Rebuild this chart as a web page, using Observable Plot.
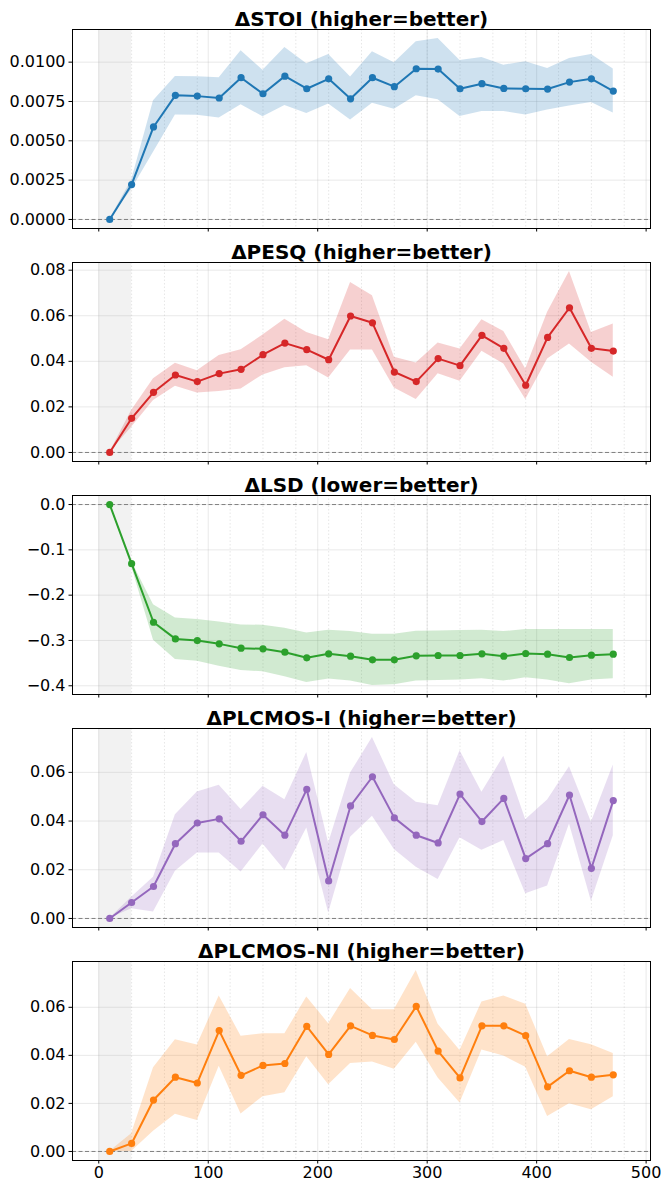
<!DOCTYPE html>
<html>
<head>
<meta charset="utf-8">
<script src="https://cdn.jsdelivr.net/npm/d3@7"></script>
<script src="https://cdn.jsdelivr.net/npm/@observablehq/plot@0.6"></script>
<style>
  html, body { margin: 0; padding: 0; background: #fff; }
  svg { display: block; }
</style>
</head>
<body>
<div id="chart"></div>
<script>
const xs = [10,30,50,70,90,110,130,150,170,190,210,230,250,270,290,310,330,350,370,390,410,430,450,470];
const xTicks = [0,100,200,300,400,500];
const xMinor = [30,60,90,120,150,180,210,240,270,300,330,360,390,420,450,480];
const warmup = [0, 30];

const titles = ["ΔSTOI (higher=better)", "ΔPESQ (higher=better)", "ΔLSD (lower=better)", "ΔPLCMOS-I (higher=better)", "ΔPLCMOS-NI (higher=better)"];
const colors = ["#1f77b4", "#d62728", "#2ca02c", "#9467bd", "#ff7f0e"];

const stoiMean = [0,0.00222,0.00588,0.00789,0.00784,0.00772,0.00901,0.00799,0.00911,0.00831,0.00894,0.00767,0.00901,0.00844,0.00958,0.00956,0.00831,0.00863,0.00833,0.00831,0.00829,0.00873,0.00894,0.00816];
const stoiLo = [0,0.0019,0.00427,0.00664,0.00662,0.00645,0.00729,0.00653,0.00725,0.00674,0.00734,0.00632,0.00738,0.00700,0.00786,0.00761,0.00655,0.00687,0.00687,0.00664,0.00696,0.00721,0.00744,0.00677];
const stoiHi = [0,0.0025,0.00755,0.00909,0.00907,0.00901,0.01072,0.00949,0.01093,0.00989,0.01049,0.00905,0.01066,0.00996,0.01129,0.0115,0.01011,0.0103,0.00981,0.01002,0.0096,0.01023,0.01049,0.00956];

const pesqMean = [0,0.0150,0.0264,0.0340,0.0311,0.0346,0.0365,0.0429,0.0480,0.0451,0.0407,0.0599,0.0569,0.0353,0.0311,0.0412,0.0381,0.0514,0.0457,0.0295,0.0505,0.0635,0.0457,0.0445];
const pesqLo = [0,0.0111,0.0228,0.0291,0.0261,0.0267,0.0279,0.0340,0.0372,0.0380,0.0327,0.0450,0.0450,0.0283,0.0232,0.0345,0.0312,0.0444,0.0388,0.0232,0.0410,0.0476,0.0396,0.0330];
const pesqHi = [0,0.0184,0.0323,0.0391,0.0359,0.0425,0.0451,0.0515,0.0585,0.0527,0.0495,0.0746,0.0688,0.0418,0.0393,0.0480,0.0454,0.0582,0.0531,0.0366,0.0615,0.0794,0.0527,0.0564];

const lsdMean = [0,-0.1306,-0.2598,-0.2965,-0.3002,-0.3075,-0.3171,-0.3185,-0.3259,-0.3383,-0.3295,-0.3347,-0.3428,-0.3428,-0.3339,-0.3332,-0.3332,-0.3295,-0.3347,-0.3288,-0.3303,-0.3376,-0.3325,-0.3303];
const lsdLo = [0,-0.137,-0.2994,-0.342,-0.3457,-0.3567,-0.3662,-0.3692,-0.3802,-0.3927,-0.3853,-0.3897,-0.3993,-0.3978,-0.3897,-0.3883,-0.3875,-0.3846,-0.3897,-0.3824,-0.3875,-0.3956,-0.3875,-0.3846];
const lsdHi = [0,-0.125,-0.2209,-0.2503,-0.254,-0.2591,-0.2657,-0.2664,-0.273,-0.2833,-0.2774,-0.2804,-0.2862,-0.2862,-0.2796,-0.2789,-0.2782,-0.2774,-0.2804,-0.276,-0.276,-0.276,-0.276,-0.276];

const plcIMean = [0,0.00656,0.01312,0.0307,0.0392,0.0409,0.0317,0.0426,0.0342,0.0530,0.0154,0.0462,0.0582,0.0413,0.0342,0.0310,0.0511,0.0398,0.0493,0.0246,0.0307,0.0507,0.0206,0.0484];
const plcILo = [0,0.0040,0.0026,0.0194,0.0269,0.0269,0.0191,0.0306,0.0197,0.0372,0.0022,0.0333,0.0420,0.0283,0.0210,0.0160,0.0331,0.0280,0.0320,0.0101,0.0133,0.0388,0.0071,0.0340];
const plcIHi = [0,0.0087,0.0169,0.0426,0.0519,0.0547,0.0447,0.0543,0.0488,0.0682,0.0309,0.0597,0.0743,0.0549,0.0477,0.0463,0.0689,0.0518,0.0666,0.0405,0.0487,0.0623,0.0395,0.0630];

const plcNIMean = [0,0.00334,0.0214,0.0309,0.0285,0.0503,0.0317,0.0358,0.0366,0.0521,0.0404,0.0523,0.0483,0.0466,0.0604,0.0418,0.0306,0.0523,0.0523,0.0482,0.0269,0.0336,0.0309,0.0319];
const plcNILo = [0,0.0,0.0084,0.0155,0.0129,0.0355,0.0156,0.0228,0.0244,0.0394,0.0278,0.0366,0.0372,0.0342,0.0455,0.0306,0.0202,0.0422,0.0397,0.0351,0.0146,0.0199,0.0174,0.0228];
const plcNIHi = [0,0.0074,0.0348,0.0465,0.0443,0.0647,0.0480,0.0490,0.0490,0.0643,0.0532,0.0678,0.0590,0.0590,0.0753,0.0529,0.0420,0.0622,0.0647,0.0613,0.0394,0.0466,0.0444,0.0408];

const yTicksList = [
  [0, 0.0025, 0.005, 0.0075, 0.01],
  [0, 0.02, 0.04, 0.06, 0.08],
  [0, -0.1, -0.2, -0.3, -0.4],
  [0, 0.02, 0.04, 0.06],
  [0, 0.02, 0.04, 0.06]
];
const yFormats = [".4f", ".2f", ".1f", ".2f", ".2f"];

const series = [
  [stoiMean, stoiLo, stoiHi],
  [pesqMean, pesqLo, pesqHi],
  [lsdMean, lsdLo, lsdHi],
  [plcIMean, plcILo, plcIHi],
  [plcNIMean, plcNILo, plcNIHi]
];

const W = 663;
const container = document.getElementById("chart");

series.forEach(([mean, lo, hi], i) => {
  const rows = xs.map((x, k) => ({x, mean: mean[k], lo: lo[k], hi: hi[k]}));
  const minV = Math.min(0, d3.min(lo), d3.min(mean));
  const maxV = Math.max(0, d3.max(hi), d3.max(mean));
  const pad = (maxV - minV) * 0.05;
  const last = i === series.length - 1;
  const c = colors[i];
  const fmt = d3.format(yFormats[i]);
  const plot = Plot.plot({
    width: W,
    height: last ? 250 : 233,
    marginTop: 29,
    marginBottom: last ? 22 : 5,
    marginLeft: 72,
    marginRight: 13,
    style: {fontFamily: "'DejaVu Sans', sans-serif", fontSize: "16px", color: "#000", background: "#fff"},
    x: {domain: [-24, 504]},
    y: {domain: [minV - pad, maxV + pad]},
    marks: [
      Plot.rect([warmup], {x1: d => d[0], x2: d => d[1], fill: "#808080", fillOpacity: 0.1}),
      Plot.gridX(xTicks, {stroke: "#b0b0b0", strokeOpacity: 0.35, strokeWidth: 0.8}),
      Plot.gridY(yTicksList[i], {stroke: "#b0b0b0", strokeOpacity: 0.35, strokeWidth: 0.8}),
      Plot.gridX(xMinor, {stroke: "#b0b0b0", strokeOpacity: 0.5, strokeWidth: 0.6, strokeDasharray: "1.5,2"}),
      Plot.areaY(rows, {x: "x", y1: "lo", y2: "hi", fill: c, fillOpacity: 0.22}),
      Plot.ruleY([0], {stroke: "#808080", strokeWidth: 1, strokeDasharray: "4,2.5"}),
      Plot.line(rows, {x: "x", y: "mean", stroke: c, strokeWidth: 2}),
      Plot.dot(rows, {x: "x", y: "mean", fill: c, r: 3.6}),
      Plot.axisY({ticks: yTicksList[i], tickFormat: fmt, tickSize: 3.5, tickPadding: 3.5, label: null, fontSize: "16px"}),
      Plot.axisX({ticks: xTicks, tickFormat: last ? (d => String(d)) : (() => ""), tickSize: 3.5, tickPadding: 3, label: null, fontSize: "16px"}),
      Plot.frame({stroke: "#000", strokeWidth: 1}),
      Plot.text([titles[i]], {frameAnchor: "top", lineAnchor: "bottom", dy: -4, fontWeight: "bold", fontSize: 20, fill: "#000", text: d => d})
    ]
  });
  container.appendChild(plot);
});
</script>
</body>
</html>
